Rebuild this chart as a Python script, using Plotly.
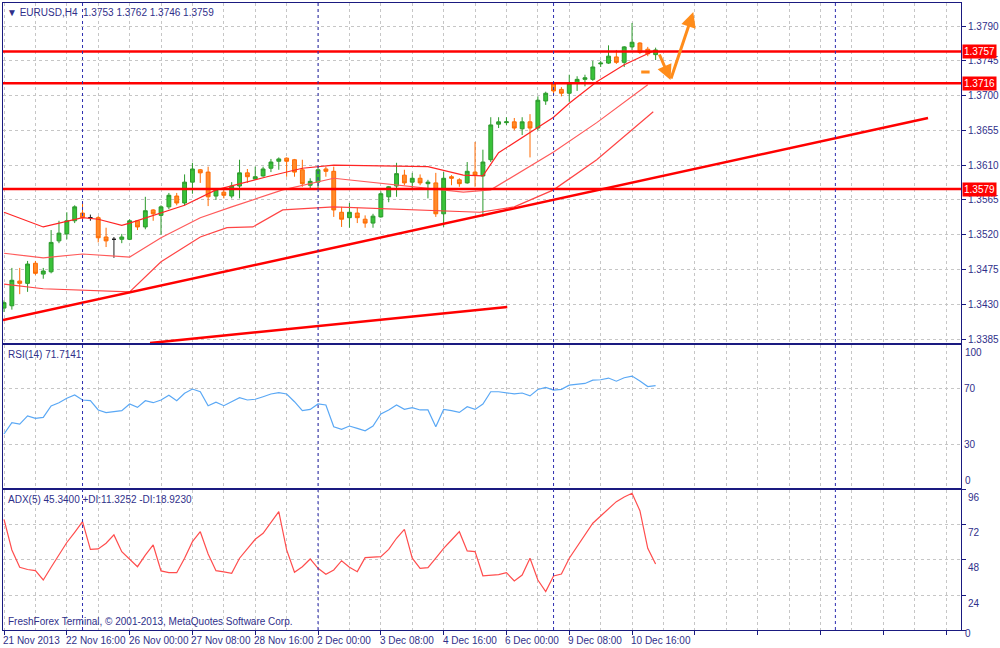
import plotly.graph_objects as go

# ---------------- data ----------------
bar_idx = list(range(84))
opens = [1.3425, 1.3428, 1.3460, 1.3457, 1.3483, 1.3469, 1.3472, 1.3512, 1.3521, 1.3538,
         1.3548, 1.3542, 1.3542, 1.3517, 1.3514, 1.3514, 1.3514, 1.3538, 1.3530, 1.3552,
         1.3545, 1.3556, 1.3570, 1.3561, 1.3588, 1.3604, 1.3601, 1.3570, 1.3575, 1.3570,
         1.3583, 1.3600, 1.3592, 1.3596, 1.3606, 1.3615, 1.3619, 1.3617, 1.3604, 1.3584,
         1.3588, 1.3605, 1.3602, 1.3549, 1.3542, 1.3548, 1.3540, 1.3535, 1.3543, 1.3569,
         1.3583, 1.3597, 1.3588, 1.3593, 1.3586, 1.3587, 1.3547, 1.3595, 1.3591, 1.3587,
         1.3601, 1.3596, 1.3617, 1.3663, 1.3665, 1.3666, 1.3657, 1.3666, 1.3658, 1.3693,
         1.3715, 1.3708, 1.3703, 1.3716, 1.3721, 1.3721, 1.3741, 1.3742, 1.3750, 1.3743,
         1.3763, 1.3768, 1.3760, 1.3753]
highs = [1.3435, 1.3477, 1.3477, 1.3486, 1.3486, 1.3477, 1.3526, 1.3538, 1.3549, 1.3558,
         1.3561, 1.3546, 1.3544, 1.3529, 1.3517, 1.3521, 1.3540, 1.3539, 1.3569, 1.3553,
         1.3558, 1.3574, 1.3574, 1.3598, 1.3613, 1.3605, 1.3608, 1.3580, 1.3578, 1.3588,
         1.3617, 1.3605, 1.3608, 1.3608, 1.3618, 1.3620, 1.3620, 1.3618, 1.3617, 1.3593,
         1.3608, 1.3608, 1.3608, 1.3556, 1.3561, 1.3555, 1.3545, 1.3547, 1.3576, 1.3583,
         1.3613, 1.3604, 1.3600, 1.3598, 1.3591, 1.3600, 1.3601, 1.3597, 1.3593, 1.3614,
         1.3640, 1.3630, 1.3672, 1.3672, 1.3672, 1.3671, 1.3672, 1.3676, 1.3699, 1.3705,
         1.3718, 1.3711, 1.3727, 1.3725, 1.3727, 1.3745, 1.3745, 1.3765, 1.3759, 1.3764,
         1.3794, 1.3769, 1.3763, 1.3762]
lows = [1.3420, 1.3423, 1.3443, 1.3446, 1.3468, 1.3463, 1.3470, 1.3509, 1.3514, 1.3535,
        1.3539, 1.3538, 1.3510, 1.3504, 1.3490, 1.3509, 1.3513, 1.3526, 1.3527, 1.3538,
        1.3520, 1.3553, 1.3558, 1.3558, 1.3573, 1.3587, 1.3557, 1.3565, 1.3567, 1.3567,
        1.3567, 1.3587, 1.3591, 1.3595, 1.3601, 1.3604, 1.3595, 1.3595, 1.3582, 1.3580,
        1.3578, 1.3595, 1.3543, 1.3530, 1.3529, 1.3535, 1.3529, 1.3529, 1.3542, 1.3562,
        1.3569, 1.3584, 1.3580, 1.3584, 1.3567, 1.3543, 1.3530, 1.3584, 1.3582, 1.3586,
        1.3582, 1.3543, 1.3614, 1.3658, 1.3662, 1.3655, 1.3649, 1.3620, 1.3655, 1.3688,
        1.3701, 1.3699, 1.3692, 1.3706, 1.3712, 1.3719, 1.3737, 1.3741, 1.3741, 1.3737,
        1.3759, 1.3754, 1.3751, 1.3746]
closes = [1.3432, 1.3461, 1.3457, 1.3482, 1.3470, 1.3473, 1.3510, 1.3522, 1.3538, 1.3556,
          1.3542, 1.3542, 1.3516, 1.3512, 1.3514, 1.3517, 1.3538, 1.3530, 1.3551, 1.3547,
          1.3556, 1.3571, 1.3561, 1.3588, 1.3605, 1.3600, 1.3569, 1.3579, 1.3571, 1.3583,
          1.3600, 1.3595, 1.3595, 1.3605, 1.3614, 1.3618, 1.3615, 1.3601, 1.3586, 1.3589,
          1.3604, 1.3602, 1.3552, 1.3540, 1.3549, 1.3542, 1.3535, 1.3544, 1.3573, 1.3582,
          1.3599, 1.3587, 1.3593, 1.3587, 1.3588, 1.3547, 1.3593, 1.3593, 1.3586, 1.3602,
          1.3597, 1.3614, 1.3662, 1.3666, 1.3666, 1.3658, 1.3666, 1.3658, 1.3694, 1.3703,
          1.3706, 1.3703, 1.3716, 1.3721, 1.3723, 1.3737, 1.3742, 1.3751, 1.3743, 1.3763,
          1.3769, 1.3756, 1.3754, 1.3759]
doji_idx = [11, 14]

# band lines (upper / middle / lower), read at vertices
band_up_x = [0, 5, 10, 12, 15, 16, 23, 27, 33.5, 38, 42, 54, 58.5, 61, 63, 67, 70, 72, 75.5, 79, 83]
band_up_y = [1.3549, 1.3530, 1.3542, 1.3540, 1.3532, 1.3535, 1.3558, 1.3578, 1.3595, 1.3606,
             1.3610, 1.3608, 1.3597, 1.3596, 1.3626, 1.3652, 1.3672, 1.3690, 1.3718, 1.3740, 1.3759]
band_mid_x = [0, 5, 10, 16, 20, 25, 29, 35.5, 42, 50.5, 58.5, 62, 67, 70, 75.5, 82]
band_mid_y = [1.3496, 1.3490, 1.3495, 1.3491, 1.3516, 1.3542, 1.3556, 1.3578, 1.3593, 1.3584,
              1.3575, 1.3578, 1.3608, 1.3627, 1.3665, 1.3714]
band_lo_x = [0, 5, 16, 20, 25, 28.4, 31.7, 35.5, 42, 60.6, 65, 70, 75.5, 82.7]
band_lo_y = [1.3456, 1.3450, 1.3446, 1.3485, 1.3517, 1.3529, 1.3530, 1.3552, 1.3556, 1.3549,
             1.3556, 1.3578, 1.3617, 1.3679]

rsi = [37.7, 45.6, 44.7, 50.4, 48.7, 49.4, 57.4, 59.7, 62.8, 65.1,
       61.6, 61.1, 54.6, 52.7, 53.4, 54.1, 58.8, 56.4, 61.1, 59.7,
       61.6, 64.9, 61.1, 66.3, 69.3, 67.4, 57.6, 60.0, 57.6, 60.2,
       63.2, 61.6, 62.1, 63.9, 65.8, 66.7, 65.8, 60.4, 54.1, 55.0,
       58.8, 58.1, 42.8, 41.0, 43.3, 41.7, 40.0, 43.3, 51.8, 54.6,
       58.1, 55.0, 56.2, 54.6, 54.6, 42.8, 55.0, 54.1, 52.9, 56.9,
       55.0, 58.8, 67.4, 67.4, 66.8, 65.9, 66.5, 64.5, 69.0, 70.4,
       68.5, 69.1, 72.0, 72.8, 73.2, 75.5, 75.8, 77.0, 74.8, 77.2,
       78.4, 75.0, 71.0, 71.7]
adx = [75.9, 54.9, 43.0, 41.5, 40.7, 34.3, 43.0, 52.0, 60.0, 67.0,
       74.3, 55.3, 55.6, 59.5, 65.2, 53.7, 48.5, 43.4, 51.4, 58.3,
       40.5, 39.3, 39.3, 49.2, 60.6, 67.4, 52.1, 40.7, 39.8, 38.9,
       49.2, 56.0, 62.2, 66.3, 73.6, 81.2, 54.9, 39.6, 43.4, 48.7,
       42.3, 38.2, 41.2, 47.5, 43.0, 40.0, 49.6, 49.8, 50.3, 55.3,
       62.9, 69.0, 49.2, 42.3, 42.7, 49.2, 56.0, 61.7, 67.4, 54.2,
       53.7, 37.2, 37.5, 38.0, 39.3, 33.6, 37.7, 49.2, 34.3, 26.3,
       37.0, 38.4, 49.2, 57.2, 64.9, 73.2, 78.2, 83.4, 88.0, 91.2,
       93.8, 81.8, 56.0, 45.3]

levels = [1.3757, 1.3716, 1.3579]
trend1_x = [-0.13, 117.7]
trend1_y = [1.34096, 1.36710]
trend2_x = [18.6, 64.1]
trend2_y = [1.33798, 1.34264]
arrow_pts_x = [83.4, 84.9, 87.8]
arrow_pts_y = [1.37551, 1.37201, 1.38081]
mark_x = [81.7]
mark_y = [1.37305]
separators = [10, 40, 70, 105.9]

price_ticks = [1.3385, 1.3430, 1.3475, 1.3520, 1.3565, 1.3610, 1.3655, 1.3700, 1.3745, 1.3790]
rsi_ticks = [30, 70]
adx_ticks = [0, 24, 48, 72, 96]
adx_tick_text = ['', '24', '48', '72', '96']
time_tick_pos = [0, 8, 16, 24, 32, 40, 48, 56, 64, 72, 80]
time_tick_text = ["21 Nov 2013", "22 Nov 16:00", "26 Nov 00:00", "27 Nov 08:00", "28 Nov 16:00",
                  "2 Dec 00:00", "3 Dec 08:00", "4 Dec 16:00", "6 Dec 00:00", "9 Dec 08:00",
                  "10 Dec 16:00"]
grid_major = list(range(0, 124, 8))
grid_minor = list(range(4, 124, 8))

# ---------------- style ----------------
NAVY = '#1a1a80'
TXT = '#2f2f8a'
GRID = '#c6c6c6'
GDASH = '3px,3px'
FONT = 'Liberation Sans'
X_RANGE = [-0.13, 121.9]

fig = go.Figure()

norm = [i for i in bar_idx if i not in doji_idx]
fig.add_trace(go.Candlestick(
    x=norm, open=[opens[i] for i in norm], high=[highs[i] for i in norm],
    low=[lows[i] for i in norm], close=[closes[i] for i in norm],
    increasing=dict(line=dict(color='#2c9a2c', width=1), fillcolor='#39c239'),
    decreasing=dict(line=dict(color='#ff6a00', width=1), fillcolor='#ff8a2a'),
    whiskerwidth=0, xaxis='x', yaxis='y', showlegend=False, hoverinfo='skip'))
fig.add_trace(go.Candlestick(
    x=doji_idx, open=[opens[i] for i in doji_idx], high=[highs[i] for i in doji_idx],
    low=[lows[i] for i in doji_idx], close=[closes[i] for i in doji_idx],
    increasing=dict(line=dict(color='#202020', width=1), fillcolor='#202020'),
    decreasing=dict(line=dict(color='#202020', width=1), fillcolor='#202020'),
    whiskerwidth=0, xaxis='x', yaxis='y', showlegend=False, hoverinfo='skip'))

for bx, by, col in [(band_up_x, band_up_y, '#ff2424'),
                    (band_mid_x, band_mid_y, '#ff5a5a'),
                    (band_lo_x, band_lo_y, '#ff4444')]:
    fig.add_trace(go.Scatter(x=bx, y=by, mode='lines', line=dict(color=col, width=1.2),
                             xaxis='x', yaxis='y', showlegend=False, hoverinfo='skip'))

for tx, ty in [(trend1_x, trend1_y), (trend2_x, trend2_y)]:
    fig.add_trace(go.Scatter(x=tx, y=ty, mode='lines', line=dict(color='#ff0000', width=2.5),
                             xaxis='x', yaxis='y', showlegend=False, hoverinfo='skip'))

fig.add_trace(go.Scatter(x=mark_x, y=mark_y, mode='markers',
                         marker=dict(symbol='line-ew', size=6, line=dict(color='#ff8c1a', width=3)),
                         xaxis='x', yaxis='y', showlegend=False, hoverinfo='skip'))

fig.add_trace(go.Scatter(x=bar_idx, y=rsi, mode='lines', line=dict(color='#5aa8f5', width=1.2),
                         xaxis='x2', yaxis='y2', showlegend=False, hoverinfo='skip'))
fig.add_trace(go.Scatter(x=bar_idx, y=adx, mode='lines', line=dict(color='#ff4d4d', width=1.2),
                         xaxis='x3', yaxis='y3', showlegend=False, hoverinfo='skip'))

shapes = []
for lv in levels:
    shapes.append(dict(type='line', xref='x domain', yref='y', x0=0, x1=1, y0=lv, y1=lv,
                       line=dict(color='#ff0000', width=2.5), layer='above'))
for s in separators:
    shapes.append(dict(type='line', xref='x', yref='paper', x0=s, x1=s, y0=0, y1=1,
                       line=dict(color='#2e2eb0', width=1, dash='3px,3px'), layer='above'))

annotations = []
for lv in levels:
    annotations.append(dict(xref='paper', yref='y', x=1, y=lv, xanchor='left', yanchor='middle',
                            text=f'{lv:.4f}', showarrow=False, bgcolor='#ff0000',
                            font=dict(color='white', size=10, family=FONT), borderpad=1, xshift=1))
# arrows
annotations.append(dict(x=arrow_pts_x[1], y=arrow_pts_y[1], ax=arrow_pts_x[0], ay=arrow_pts_y[0],
                        xref='x', yref='y', axref='x', ayref='y', text='', showarrow=True,
                        arrowhead=2, arrowsize=1, arrowwidth=3, arrowcolor='#ff8c1a'))
annotations.append(dict(x=arrow_pts_x[2], y=arrow_pts_y[2], ax=arrow_pts_x[1], ay=arrow_pts_y[1],
                        xref='x', yref='y', axref='x', ayref='y', text='', showarrow=True,
                        arrowhead=2, arrowsize=1, arrowwidth=3, arrowcolor='#ff8c1a'))
for pos, txt in zip(time_tick_pos, time_tick_text):
    annotations.append(dict(xref='x3', yref='paper', x=pos, y=-0.016, xanchor='left', yanchor='middle',
                            text=txt, showarrow=False, xshift=-3,
                            font=dict(color=TXT, size=10, family=FONT)))
annotations.append(dict(xref='paper', yref='paper', x=0, y=1, xanchor='left', yanchor='top',
                        text='▼ EURUSD,H4  1.3753 1.3762 1.3746 1.3759', showarrow=False,
                        xshift=2, yshift=-2, font=dict(color=TXT, size=10, family=FONT)))
annotations.append(dict(xref='paper', yref='y2 domain', x=0, y=1, xanchor='left', yanchor='top',
                        text='RSI(14) 71.7141', showarrow=False, xshift=3, yshift=-2,
                        font=dict(color=TXT, size=10, family=FONT)))
annotations.append(dict(xref='paper', yref='y2', x=1, y=100, xanchor='left', yanchor='middle',
                        text='100', showarrow=False, xshift=2, yshift=-7,
                        font=dict(color=TXT, size=10, family=FONT)))
annotations.append(dict(xref='paper', yref='y2', x=1, y=0, xanchor='left', yanchor='middle',
                        text='0', showarrow=False, xshift=2, yshift=7,
                        font=dict(color=TXT, size=10, family=FONT)))
annotations.append(dict(xref='paper', yref='y3', x=1, y=0, xanchor='left', yanchor='middle',
                        text='0', showarrow=False, xshift=2, yshift=-3,
                        font=dict(color=TXT, size=10, family=FONT)))
annotations.append(dict(xref='paper', yref='y3 domain', x=0, y=1, xanchor='left', yanchor='top',
                        text='ADX(5) 45.3400 +DI:11.3252 -DI:18.9230', showarrow=False, xshift=3, yshift=-2,
                        font=dict(color=TXT, size=10, family=FONT)))
annotations.append(dict(xref='paper', yref='y3 domain', x=0, y=0, xanchor='left', yanchor='bottom',
                        text='FreshForex Terminal, © 2001-2013, MetaQuotes Software Corp.', showarrow=False,
                        xshift=3, yshift=1, font=dict(color=TXT, size=10, family=FONT)))

def xax(anchor, ticks):
    d = dict(range=X_RANGE, domain=[0, 1], anchor=anchor, tickmode='array', tickvals=grid_major,
             showticklabels=False, showgrid=True, gridcolor=GRID, griddash=GDASH, gridwidth=1,
             showline=True, mirror=True, linecolor=NAVY, linewidth=1, zeroline=False, fixedrange=True,
             automargin=False,
             minor=dict(tickmode='array', tickvals=grid_minor, showgrid=True, gridcolor=GRID,
                        griddash=GDASH, gridwidth=1, ticks=''))
    if ticks:
        d.update(ticks='outside', ticklen=4, tickcolor=NAVY, tickvals=time_tick_pos + [88, 96, 104, 112, 120],
                 minor=dict(tickmode='array', tickvals=grid_minor + [84, 92, 100, 108, 116],
                            showgrid=True, gridcolor=GRID, griddash=GDASH, gridwidth=1, ticks=''))
    else:
        d.update(ticks='')
    return d

ydef = dict(side='right', showgrid=True, gridcolor=GRID, griddash=GDASH, gridwidth=1,
            showline=True, mirror=True, linecolor=NAVY, linewidth=1, zeroline=False,
            ticks='outside', ticklen=4, tickcolor=NAVY, fixedrange=True, automargin=False,
            tickfont=dict(color=TXT, size=10, family=FONT))

fig.update_layout(
    width=1000, height=648,
    margin=dict(l=3, r=39, t=3, b=18, autoexpand=False),
    paper_bgcolor='white', plot_bgcolor='white',
    showlegend=False, hovermode=False, dragmode=False,
    xaxis=dict(xax('y', False), rangeslider=dict(visible=False)),
    xaxis2=xax('y2', False),
    xaxis3=xax('y3', True),
    yaxis=dict(ydef, domain=[0.4577, 1.0], anchor='x', range=[1.33798, 1.38198],
               tickmode='array', tickvals=price_ticks, tickformat='.4f'),
    yaxis2=dict(ydef, domain=[0.2265, 0.4545], anchor='x2', range=[-0.2, 100.2],
                tickmode='array', tickvals=rsi_ticks, ticks=''),
    yaxis3=dict(ydef, domain=[0.0, 0.2233], anchor='x3', range=[0, 96],
                tickmode='array', tickvals=adx_ticks, ticktext=adx_tick_text, ticklabelshift=8),
    shapes=shapes, annotations=annotations,
)

fig.write_html("out.html", config={'displayModeBar': False, 'staticPlot': True},
               post_script="document.body.style.margin='0px';document.body.style.overflow='hidden';")
